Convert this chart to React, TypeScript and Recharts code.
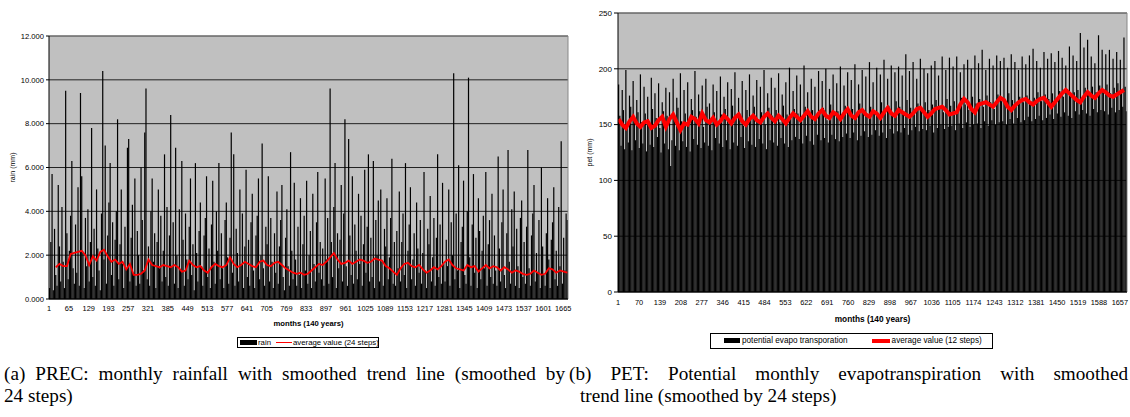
import React from 'react';
import { ComposedChart, Bar, Line, XAxis, YAxis, CartesianGrid, Legend, ReferenceLine } from 'recharts';

const FONT = '"Liberation Sans", Arial, sans-serif';
const SERIF = '"Liberation Serif", "Times New Roman", serif';

// months per bar bucket
const MONTHS_PER_BAR = 4;

// ---- Left chart: monthly rainfall (one value per 4-month bucket) ----
const rain = [
  0.5,2.6,5.7,0.4,3.2,1.1,0.6,5.2,2.4,0.8,4.2,1.7,0.5,9.5,3.0,0.9,2.2,3.8,6.3,1.4,
  0.7,3.4,1.2,5.1,0.6,9.4,5.6,2.1,0.5,3.7,1.5,4.1,0.8,2.6,7.8,1.0,3.2,0.6,5.0,2.3,
  1.3,0.4,3.9,10.4,1.8,7.0,0.7,2.9,4.4,6.2,1.1,3.5,0.6,2.7,4.0,8.2,0.9,2.5,5.0,1.6,
  0.5,3.3,1.4,6.9,7.3,0.8,2.8,4.3,1.2,5.5,0.6,3.1,2.0,0.7,6.0,3.6,1.3,7.6,9.6,0.9,
  2.4,0.6,4.0,5.5,1.7,3.0,0.5,2.6,5.0,1.4,3.8,0.8,2.2,6.6,1.0,4.2,0.6,2.9,8.4,1.5,
  3.5,0.7,6.9,2.0,0.5,4.1,1.3,6.3,2.7,0.6,3.9,1.8,0.9,3.3,5.5,1.1,2.5,0.4,6.2,2.1,
  0.8,3.1,4.4,1.5,0.6,2.9,3.7,5.6,1.0,2.3,0.5,3.4,5.4,1.7,0.7,4.0,2.2,6.2,0.9,3.0,
  1.4,0.5,3.6,4.4,1.9,0.7,2.8,7.6,1.2,6.6,0.6,3.2,2.1,0.8,5.0,1.6,3.9,0.5,2.4,5.9,
  1.0,2.7,0.6,3.5,4.8,1.3,0.5,2.9,3.8,5.5,0.9,2.0,7.1,1.4,0.6,3.3,2.5,5.6,0.8,3.7,
  1.7,0.5,3.0,1.2,4.9,0.7,2.4,3.6,5.2,1.0,0.4,2.8,4.1,1.5,0.6,6.7,2.2,0.9,5.3,1.8,
  0.6,3.3,1.1,4.6,0.5,2.5,3.8,1.3,5.4,0.7,2.0,3.1,0.5,4.8,1.6,0.8,3.5,5.8,1.2,2.6,
  0.9,2.3,0.6,5.5,1.8,3.7,0.7,9.6,2.6,1.0,4.2,6.2,0.5,3.0,1.4,2.7,5.2,0.8,3.9,8.2,
  1.5,0.6,7.3,2.9,1.1,5.6,0.7,3.4,2.2,0.9,4.8,1.6,3.8,0.6,2.5,5.9,1.2,3.3,6.6,0.8,
  2.8,1.0,6.3,0.5,3.6,2.0,4.5,0.8,5.0,1.7,0.6,3.2,2.4,4.6,0.9,1.9,3.7,6.4,0.7,2.6,
  0.6,3.1,1.4,4.9,0.8,2.6,3.9,1.1,6.2,0.5,2.2,3.4,5.1,0.9,1.8,3.0,0.6,4.4,2.3,1.2,
  3.6,0.7,2.1,5.8,1.3,0.5,3.2,2.5,4.7,0.8,1.9,3.7,0.6,2.8,6.6,1.0,3.4,0.7,5.3,1.6,
  0.8,2.7,1.5,5.0,0.6,3.5,2.0,10.3,0.9,3.9,1.3,6.1,0.5,2.6,3.3,5.4,1.1,0.7,4.0,10.1,
  1.9,0.6,3.4,5.7,1.2,2.8,0.5,4.6,3.1,0.9,2.2,3.8,1.4,5.8,0.6,2.5,3.6,1.0,4.8,0.7,
  2.9,1.3,0.6,6.5,2.3,0.8,3.5,5.0,1.1,0.5,3.0,6.8,1.7,0.7,4.1,2.4,4.9,0.6,3.2,1.5,
  0.5,3.7,4.5,1.0,2.6,0.7,3.3,6.8,1.4,0.6,2.9,3.9,5.2,0.8,2.1,1.2,3.6,0.5,6.0,2.4,
  1.1,0.6,3.0,4.6,1.8,0.5,2.7,3.5,5.1,0.9,2.2,0.6,4.2,1.5,7.2,0.7,2.8,1.3,3.9,3.6,
];

// smoothed rainfall, one point per year (first year has no average yet)
const rainAvg: (number | null)[] = [
  null,
  1.45,1.6,1.5, 1.5,2.05,2.1,2.15, 2.2,2.0, 1.55,1.95, 1.75,2.15,2.25,1.95,
  1.7,1.8,1.6,1.7,1.35, 1.6,1.1,1.1,1.15,1.3,
  1.8,1.55,1.5,1.45,1.55,1.5,1.45,1.55,1.45, 1.25,1.3,1.75,1.55,1.45,
  1.5,1.3,1.2,1.45,1.6,1.5,1.45, 1.55,1.9,1.6,1.45,1.55,1.7,1.6,
  1.5,1.45,1.7,1.75,1.55,1.5,1.65, 1.7,1.55,1.4,1.3,1.2,1.15,1.2,
  1.1,1.15,1.3,1.45,1.6,1.55,1.7, 1.9,2.1,1.8,1.6,1.65,1.75,1.6,
  1.7,1.8,1.75,1.65,1.7,1.85,1.8, 1.75,1.5,1.4,1.25,1.1,1.4,1.6,
  1.65,1.5,1.45,1.55,1.35,1.2,1.3, 1.45,1.35,1.5,1.7,1.8,1.55,1.4,
  1.35,1.3,1.55,1.45,1.5,1.25,1.4, 1.55,1.4,1.5,1.45,1.3,1.45,1.35,
  1.2,1.3,1.25,1.15,1.1,1.15,1.3, 1.2,1.1,1.15,1.4,1.35,1.2,1.3,1.25,1.2,
];

const rainMonthTicks = [1,65,129,193,257,321,385,449,513,577,641,705,769,833,897,961,1025,1089,1153,1217,1281,1345,1409,1473,1537,1601,1665];
const rainValueTicks = [0,2,4,6,8,10,12];

// ---- Right chart: potential evapotranspiration (one value per 4-month bucket) ----
const pet = [
  186,158,131,181,163,128,199,150,134,176,166,127,189,155,136,172,161,129,195,152,133,
  184,160,126,175,149,132,192,164,130,178,156,139,187,147,125,170,162,133,183,158,128,
  179,113,136,191,159,131,174,165,127,196,153,135,181,160,130,188,150,126,173,163,137,
  198,157,132,177,162,129,185,148,134,191,166,131,169,155,127,186,161,138,180,152,133,
  193,159,130,175,164,136,188,151,128,182,167,134,197,156,131,174,160,139,189,149,129,
  181,163,135,195,157,132,176,166,130,190,154,137,184,161,133,199,150,128,178,165,136,
  192,158,134,183,163,131,196,152,138,177,167,133,188,159,130,201,155,136,180,164,139,
  194,160,137,186,153,133,203,166,140,179,158,135,191,163,132,184,156,141,198,161,136,
  189,165,138,200,154,134,182,168,141,195,159,137,187,162,135,202,157,139,185,167,142,
  197,160,138,190,164,143,204,156,136,186,169,140,199,161,144,193,158,139,206,166,141,
  188,163,145,201,159,140,195,170,143,208,162,138,191,167,146,203,160,142,197,171,144,
  202,166,143,194,161,147,213,172,141,198,165,145,206,160,148,191,169,144,209,164,146,
  200,170,145,196,163,149,203,168,143,207,172,147,194,166,150,211,161,146,199,173,148,
  210,167,149,202,171,145,211,165,151,197,174,147,204,168,152,208,163,148,200,175,150,
  212,169,151,205,173,147,217,166,153,199,176,149,209,170,154,203,164,150,212,177,152,
  207,171,153,210,168,150,201,178,155,213,172,151,206,167,156,199,175,152,211,170,154,
  204,176,157,212,169,153,218,174,155,207,179,158,201,171,154,215,177,156,209,173,159,
  214,178,155,206,172,160,216,180,157,210,175,161,203,182,158,220,176,156,212,179,162,
  207,181,159,232,174,163,219,183,160,226,177,158,211,184,164,205,179,161,230,185,163,
  217,180,162,213,186,159,217,178,165,209,183,161,215,187,163,208,181,166,228,184,162,
];

// smoothed PET, one point per year
const petAvg = [
  155,150,147,153,157,151,148,152,153,147,149,154,157,148,155,159,152,145,151,150,157,155,151,
  160,154,152,156,150,153,158,155,151,156,159,153,150,155,158,154,152,157,160,156,153,158,155,151,156,160,157,154,
  158,162,157,155,160,163,158,156,161,159,155,160,164,158,156,161,163,159,157,162,160,156,161,165,160,158,163,161,
  159,157,160,164,165,161,157,160,164,165,166,163,159,160,161,168,173,170,164,161,
  168,169,170,168,166,170,174,172,166,163,167,170,172,173,170,168,171,173,174,170,
  166,170,174,178,181,178,175,172,170,175,179,176,174,178,181,179,176,175,177,179,181,
];

const petMonthTicks = [1,70,139,208,277,346,415,484,553,622,691,760,829,898,967,1036,1105,1174,1243,1312,1381,1450,1519,1588,1657];
const petValueTicks = [0,50,100,150,200,250];

const rainRows = rain.map((v, i) => ({
  month: i * MONTHS_PER_BAR + 2.5,
  rain: v,
  avg: i % 3 === 2 ? rainAvg[(i - 2) / 3] : null,
}));

const petRows = pet.map((v, i) => ({
  month: i * MONTHS_PER_BAR + 2.5,
  pet: v,
  avg: i % 3 === 0 ? petAvg[i / 3] : null,
}));

type LegendSpec = {
  width: number; height: number; padLeft: number; swatchW: number; swatchH: number;
  textGap: number; itemGap: number; lineW: number; lineH: number; fontSize: number;
};

const makeLegend = (spec: LegendSpec) => (props: any) => {
  const payload = [...(props.payload || [])].sort(
    (a: any, b: any) => (a.type === 'line' ? 1 : 0) - (b.type === 'line' ? 1 : 0)
  );
  return (
    <div
      style={{
        width: spec.width, height: spec.height, boxSizing: 'border-box', border: '1px solid #000',
        background: '#fff', display: 'flex', alignItems: 'center', paddingLeft: spec.padLeft,
        fontFamily: FONT, fontSize: spec.fontSize, color: '#000', whiteSpace: 'nowrap', lineHeight: 1,
      }}
    >
      {payload.map((e: any, i: number) => (
        <div key={i} style={{ display: 'flex', alignItems: 'center', marginLeft: i ? spec.itemGap : 0 }}>
          {e.type === 'line' ? (
            <div style={{ width: spec.lineW, height: spec.lineH, background: e.color }} />
          ) : (
            <div style={{ width: spec.swatchW, height: spec.swatchH, background: e.color }} />
          )}
          <span style={{ marginLeft: spec.textGap }}>{e.value}</span>
        </div>
      ))}
    </div>
  );
};

const leftLegend = makeLegend({ width: 142, height: 11, padLeft: 2, swatchW: 17, swatchH: 5, textGap: 1, itemGap: 5, lineW: 16, lineH: 1.5, fontSize: 7.8 });
const rightLegend = makeLegend({ width: 283, height: 16, padLeft: 13, swatchW: 16, swatchH: 5, textGap: 2, itemGap: 24, lineW: 18, lineH: 4, fontSize: 8.2 });

const captionBase: React.CSSProperties = {
  position: 'absolute', fontFamily: SERIF, fontSize: 19.2, lineHeight: '22px', color: '#000', whiteSpace: 'nowrap',
};

export default function App() {
  return (
    <div style={{ position: 'absolute', left: 0, top: 0, width: 1130, height: 417, overflow: 'hidden', background: '#fff' }}>
      <div style={{ position: 'absolute', left: 0, top: 0 }}>
        <ComposedChart width={580} height={360} data={rainRows} margin={{ top: 36, right: 12, bottom: 31, left: 9 }}>
          <CartesianGrid vertical={false} stroke="#222" fill="#c0c0c0" fillOpacity={1} />
          <XAxis
            type="number" dataKey="month" domain={[0.5, 1680.5]} allowDataOverflow ticks={rainMonthTicks} interval={0}
            tickLine={false} tickSize={5} height={30} axisLine={{ stroke: '#000' }}
            tick={{ fontSize: 7.4, fill: '#000', fontFamily: FONT }}
            label={{ value: 'months (140 years)', position: 'insideBottom', offset: 3, style: { fontSize: 7.7, fontWeight: 'bold', fill: '#000', fontFamily: FONT } }}
          />
          <YAxis
            type="number" domain={[0, 12]} ticks={rainValueTicks} interval={0} width={40} tickSize={3}
            tickFormatter={(v: number) => v.toFixed(3)} axisLine={{ stroke: '#000' }} tickLine={{ stroke: '#000' }}
            tick={{ fontSize: 7.6, fill: '#000', fontFamily: FONT }}
            label={{ value: 'rain (mm)', angle: -90, position: 'insideLeft', offset: 4, style: { textAnchor: 'middle', fontSize: 7, fill: '#000', fontFamily: FONT } }}
          />
          <ReferenceLine y={12} stroke="#888" />
          <ReferenceLine x={1680.5} stroke="#888" />
          <Bar dataKey="rain" name="rain" fill="#000" barSize={1.2} isAnimationActive={false} />
          <Line dataKey="avg" name="average value (24 steps)" type="linear" stroke="#ff0000" strokeWidth={1.8} dot={false} connectNulls isAnimationActive={false} />
          <Legend layout="horizontal" verticalAlign="middle" align="center" content={leftLegend}
            wrapperStyle={{ left: 237, top: 337, width: 142, height: 11 }} />
        </ComposedChart>
      </div>

      <div style={{ position: 'absolute', left: 560, top: 0 }}>
        <ComposedChart width={570} height={360} data={petRows} margin={{ top: 13, right: 3, bottom: 36, left: 18 }}>
          <CartesianGrid vertical={false} stroke="#222" fill="#c0c0c0" fillOpacity={1} />
          <XAxis
            type="number" dataKey="month" domain={[0.5, 1680.5]} allowDataOverflow ticks={petMonthTicks} interval={0}
            tickLine={false} tickSize={6} height={32} axisLine={{ stroke: '#000' }}
            tick={{ fontSize: 7.4, fill: '#000', fontFamily: FONT }}
            label={{ value: 'months (140 years)', position: 'insideBottom', offset: 2, style: { fontSize: 8.3, fontWeight: 'bold', fill: '#000', fontFamily: FONT } }}
          />
          <YAxis
            type="number" domain={[0, 250]} ticks={petValueTicks} interval={0} width={40} tickSize={4}
            axisLine={{ stroke: '#000' }} tickLine={{ stroke: '#000' }}
            tick={{ fontSize: 8, fill: '#000', fontFamily: FONT }}
            label={{ value: 'pet (mm)', angle: -90, position: 'insideLeft', offset: 12, style: { textAnchor: 'middle', fontSize: 7, fill: '#000', fontFamily: FONT } }}
          />
          <ReferenceLine y={250} stroke="#888" />
          <ReferenceLine x={1680.5} stroke="#888" />
          <Bar dataKey="pet" name="potential evapo transporation" fill="#000" barSize={1.2} isAnimationActive={false} />
          <Line dataKey="avg" name="average value (12 steps)" type="linear" stroke="#ff0000" strokeWidth={4} dot={false} connectNulls isAnimationActive={false} />
          <Legend layout="horizontal" verticalAlign="middle" align="center" content={rightLegend}
            wrapperStyle={{ left: 150, top: 333, width: 283, height: 16 }} />
        </ComposedChart>
      </div>

      <div style={{ ...captionBase, left: 4, top: 363, width: 561, textAlign: 'justify', textAlignLast: 'justify' }}>
        (a) PREC: monthly rainfall with smoothed trend line (smoothed by
      </div>
      <div style={{ ...captionBase, left: 4, top: 385 }}>24 steps)</div>
      <div style={{ ...captionBase, left: 569, top: 363, width: 559, textAlign: 'justify', textAlignLast: 'justify' }}>
        (b) PET: Potential monthly evapotranspiration with smoothed
      </div>
      <div style={{ ...captionBase, left: 580, top: 385 }}>trend line (smoothed by 24 steps)</div>
    </div>
  );
}
